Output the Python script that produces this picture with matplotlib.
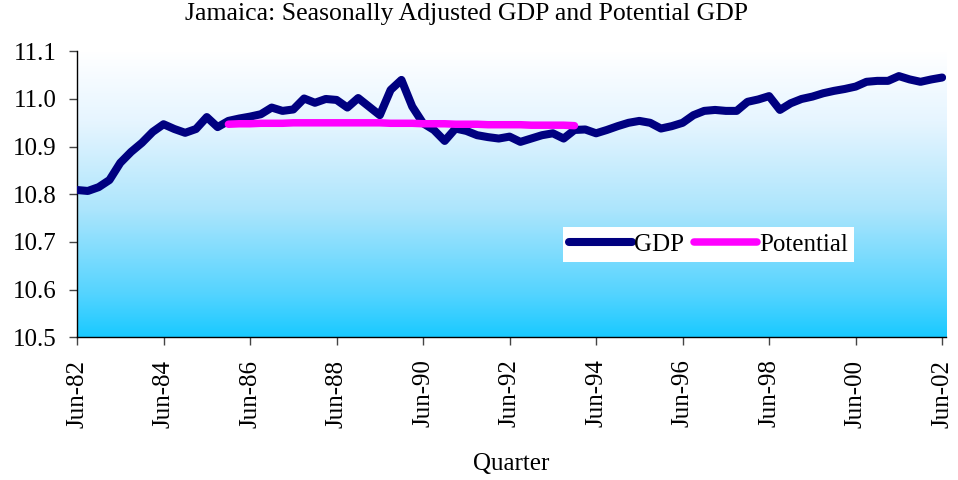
import numpy as np
import matplotlib
matplotlib.use("Agg")
import matplotlib.pyplot as plt
from matplotlib.colors import LinearSegmentedColormap

title = "Jamaica: Seasonally Adjusted GDP and Potential GDP"
tick_labels = ["Jun-82", "Jun-84", "Jun-86", "Jun-88", "Jun-90", "Jun-92",
               "Jun-94", "Jun-96", "Jun-98", "Jun-00", "Jun-02"]

# Quarterly log GDP, Jun-82 .. Jun-02 (81 quarters)
gdp = [10.809, 10.807, 10.815, 10.830, 10.866, 10.889, 10.908, 10.931, 10.947, 10.937,
       10.929, 10.937, 10.962, 10.941, 10.954, 10.959, 10.963, 10.968, 10.982, 10.975,
       10.978, 11.001, 10.992, 11.000, 10.998, 10.982, 11.002, 10.984, 10.966, 11.019,
       11.040, 10.984, 10.949, 10.935, 10.912, 10.938, 10.933, 10.924, 10.920, 10.917,
       10.921, 10.910, 10.917, 10.924, 10.928, 10.917, 10.935, 10.936, 10.928, 10.935,
       10.943, 10.950, 10.954, 10.950, 10.938, 10.943, 10.950, 10.966, 10.975, 10.977,
       10.975, 10.975, 10.994, 10.999, 11.006, 10.977, 10.991, 11.000, 11.005, 11.012,
       11.017, 11.021, 11.026, 11.036, 11.038, 11.038, 11.048, 11.041, 11.036, 11.041,
       11.045]

# Potential GDP, quarters 14 .. 46
potential_start = 14
potential = [10.947, 10.948, 10.948, 10.949, 10.949, 10.949, 10.950, 10.950, 10.950, 10.950,
             10.950, 10.950, 10.950, 10.950, 10.950, 10.949, 10.949, 10.949, 10.948, 10.948,
             10.948, 10.947, 10.947, 10.947, 10.946, 10.946, 10.946, 10.946, 10.945, 10.945,
             10.945, 10.945, 10.944]

plt.rcParams['font.family'] = ['Liberation Serif', 'DejaVu Serif']

fig = plt.figure(figsize=(9.58, 4.8), dpi=100)
ax = fig.add_axes([0.0804, 0.2973, 0.9071, 0.5958])

xmax = 80.36
ymin, ymax = 10.5, 11.1

# gradient background
cmap = LinearSegmentedColormap.from_list("bg", [
    (0.0, (0.10, 0.79, 1.0)),
    (0.15, (0.33, 0.83, 1.0)),
    (0.45, (0.68, 0.90, 0.99)),
    (0.75, (0.90, 0.96, 1.0)),
    (1.0, (1.0, 1.0, 1.0)),
])
grad = np.linspace(0, 1, 256).reshape(-1, 1)
ax.imshow(grad, cmap=cmap, aspect='auto', origin='lower',
          extent=[0, xmax, ymin, ymax], zorder=0)

x = np.arange(len(gdp))
ax.plot(x, gdp, color='#000080', lw=5.8, solid_capstyle='round',
        solid_joinstyle='round', label='GDP', zorder=3)
xp = np.arange(potential_start, potential_start + len(potential))
ax.plot(xp, potential, color='#FF00FF', lw=5.4, solid_capstyle='round',
        solid_joinstyle='round', label='Potential', zorder=4)

ax.set_xlim(0, xmax)
ax.set_ylim(ymin, ymax)
ax.set_yticks(np.arange(10.5, 11.11, 0.1))
ax.set_yticklabels([f"{v:.1f}" for v in np.arange(10.5, 11.11, 0.1)])
ax.set_xticks(np.arange(0, 81, 8))
ax.set_xticklabels(tick_labels, rotation=90)
ax.tick_params(axis='both', labelsize=18, direction='out', length=6, width=1, color='#444444')
ax.tick_params(axis='y', pad=8.5)
ax.tick_params(axis='x', pad=10)
for s in ['top', 'right']:
    ax.spines[s].set_visible(False)
for s in ['left', 'bottom']:
    ax.spines[s].set_linewidth(1.0)
    ax.spines[s].set_color('black')

ax.set_xlabel("Quarter", fontsize=18, labelpad=18)
fig.suptitle(title, fontsize=18.5, x=0.487, y=0.993)

leg = ax.legend(loc='upper left', bbox_to_anchor=(0.559, 0.386), ncol=2,
                fontsize=18, frameon=True, fancybox=False, framealpha=1,
                edgecolor='white', handlelength=2.5, handletextpad=0.1,
                columnspacing=0.4, borderpad=0.25, borderaxespad=0)
leg.get_frame().set_linewidth(0)

fig.savefig("out.png", dpi=100)
